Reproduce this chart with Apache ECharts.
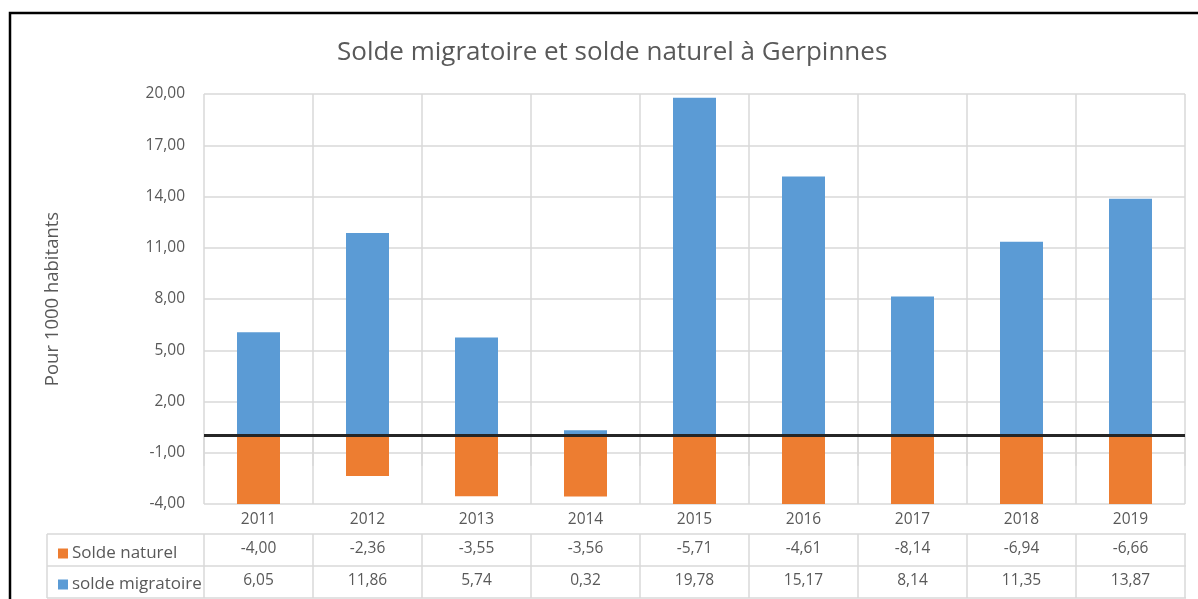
<!DOCTYPE html>
<html>
<head>
<meta charset="utf-8">
<script src="https://cdn.jsdelivr.net/npm/echarts@6/dist/echarts.min.js"></script>
<style>
  html, body { margin: 0; padding: 0; background: #fff; }
  #chart { width: 1198px; height: 599px; }
</style>
</head>
<body>
<div id="chart"></div>
<script>
/* Solde migratoire et solde naturel - Gerpinnes */

const annees = ["2011","2012","2013","2014","2015","2016","2017","2018","2019"];
const soldeNaturel = [-4.00,-2.36,-3.55,-3.56,-5.71,-4.61,-8.14,-6.94,-6.66];
const soldeMigratoire = [6.05,11.86,5.74,0.32,19.78,15.17,8.14,11.35,13.87];

const TXT = "#595959";
const GRID = "#d9d9d9";
const FONT = "Open Sans";
const FS = 15.5;

function virgule(v){
    return v.toFixed(2).replace(".",",");
}

const chart = echarts.init(document.getElementById("chart"));

// table rows below the plot (x axes with offset)
function tableAxis(offset, formatter){
    return {
        type:"category",
        data:annees,
        position:"bottom",
        offset:offset,
        axisLine:{ show:false },
        axisTick:{ show:true, length:32, lineStyle:{ color:GRID, width:1.5 } },
        axisLabel:{ interval:0, margin:7, color:TXT, fontFamily:FONT, fontSize:FS, formatter:formatter },
        splitLine:{ show:false }
    };
}

function legendRow(name, top){
    return {
        orient:"horizontal",
        left:53,
        top:top,
        itemWidth:10,
        itemHeight:10,
        itemGap:4,
        icon:"rect",
        textStyle:{ color:TXT, fontFamily:FONT, fontSize:17, padding:[0,0,0,-1] },
        data:[name]
    };
}

const option = {

    animation:false,

    title:{
        text:"Solde migratoire et solde naturel à Gerpinnes",
        left:332,
        top:35,
        textStyle:{ color:TXT, fontFamily:FONT, fontSize:26, fontWeight:"normal" }
    },

    legend:[
        legendRow("Solde naturel", 540),
        legendRow("solde migratoire", 571)
    ],

    grid:{
        left:204,
        right:13,
        top:94,
        bottom:95
    },

    xAxis:[
        {
            type:"category",
            data:annees,
            position:"bottom",
            axisLine:{ show:false },
            axisTick:{ show:true, length:30, lineStyle:{ color:GRID, width:1.5 } },
            axisLabel:{ interval:0, margin:8, color:TXT, fontFamily:FONT, fontSize:FS },
            splitLine:{ show:true, interval:0, lineStyle:{ color:GRID, width:1.5 } }
        },
        tableAxis(30, (v,i)=>virgule(soldeNaturel[i])),
        tableAxis(62, (v,i)=>virgule(soldeMigratoire[i]))
    ],

    yAxis:{
        type:"value",
        min:-4,
        max:20,
        interval:3,
        name:"Pour 1000 habitants",
        nameLocation:"middle",
        nameGap:142,
        nameTextStyle:{ color:TXT, fontFamily:FONT, fontSize:18.5 },
        axisLine:{ show:false },
        axisTick:{ show:false },
        axisLabel:{ margin:19, color:TXT, fontFamily:FONT, fontSize:FS, formatter:virgule },
        splitLine:{ lineStyle:{ color:GRID, width:1.5 } }
    },

    series:[
        {
            name:"Solde naturel",
            type:"bar",
            stack:"solde",
            barWidth:43,
            itemStyle:{ color:"#ED7D31" },
            data:soldeNaturel
        },
        {
            name:"solde migratoire",
            type:"bar",
            stack:"solde",
            barWidth:43,
            itemStyle:{ color:"#5B9BD5" },
            data:soldeMigratoire,
            markLine:{
                silent:true,
                symbol:["none","none"],
                label:{ show:false },
                lineStyle:{ color:"#262626", width:3, type:"solid" },
                data:[{ yAxis:0 }]
            }
        }
    ],

    graphic:[
        // outer chart border
        { type:"rect", shape:{ x:10, y:13, width:1300, height:700 },
          style:{ fill:null, stroke:"#000", lineWidth:2.5 }, silent:true },
        // data table frame
        { type:"line", shape:{ x1:47, y1:534, x2:1186, y2:534 }, style:{ stroke:GRID, lineWidth:1.5 }, silent:true },
        { type:"line", shape:{ x1:47, y1:566, x2:1186, y2:566 }, style:{ stroke:GRID, lineWidth:1.5 }, silent:true },
        { type:"line", shape:{ x1:47, y1:598, x2:1186, y2:598 }, style:{ stroke:GRID, lineWidth:1.5 }, silent:true },
        { type:"line", shape:{ x1:47, y1:534, x2:47, y2:598 }, style:{ stroke:GRID, lineWidth:1.5 }, silent:true }
    ]

};

chart.setOption(option);
</script>
</body>
</html>
